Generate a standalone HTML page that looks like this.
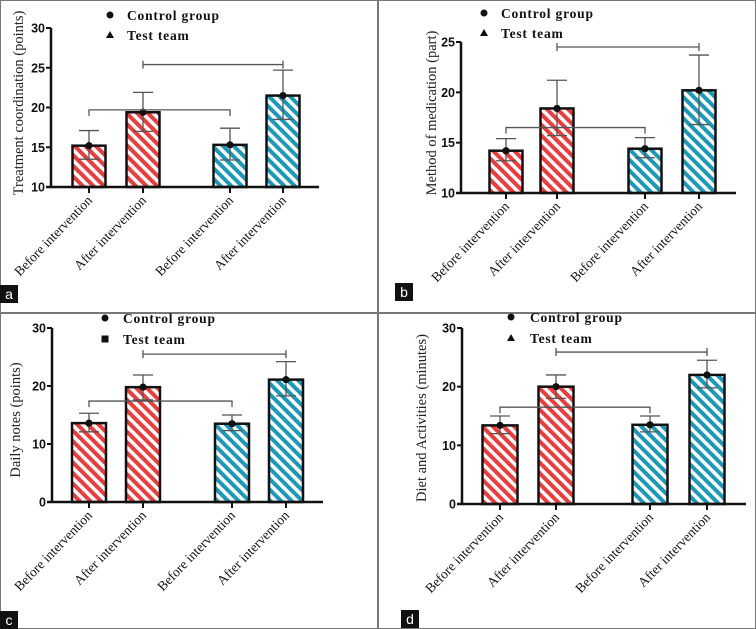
<!DOCTYPE html>
<html><head><meta charset="utf-8">
<style>
html,body{margin:0;padding:0;background:#fff;}
svg{display:block;}
.tick{font-family:"Liberation Sans",sans-serif;font-weight:bold;font-size:12.5px;fill:#111;}
.leg{font-family:"Liberation Serif",serif;font-weight:bold;font-size:13.5px;letter-spacing:0.8px;fill:#111;}
.cat{font-family:"Liberation Serif",serif;font-size:13.5px;fill:#111;}
.ytitle{font-family:"Liberation Serif",serif;font-size:14.5px;fill:#222;}
.lab{font-family:"Liberation Sans",sans-serif;font-size:14px;fill:#fff;}
</style></head>
<body>
<svg id="fig" width="756" height="629" viewBox="0 0 756 629" xmlns="http://www.w3.org/2000/svg">
<defs>
<pattern id="hatchRed" width="7.5" height="7.5" patternUnits="userSpaceOnUse" patternTransform="rotate(-45)">
<rect width="7.5" height="7.5" fill="#fff"/><rect x="0" y="0" width="4" height="7.5" fill="#ee3b3b"/></pattern>
<pattern id="hatchCyan" width="7.5" height="7.5" patternUnits="userSpaceOnUse" patternTransform="rotate(-45)">
<rect width="7.5" height="7.5" fill="#fff"/><rect x="0" y="0" width="4" height="7.5" fill="#1a9ab8"/></pattern>
</defs>
</svg>
<script>
const categories = ["Before intervention","After intervention","Before intervention","After intervention"];
// panel a
const aValues = [15.2, 19.4, 15.3, 21.5];
const aUpper = [17.1, 21.9, 17.4, 24.7];
const aLower = [13.5, 17.0, 13.4, 18.5];
const aTicks = [10, 15, 20, 25, 30];
const aBrackets = [19.7, 25.4];
// panel b
const bValues = [14.2, 18.4, 14.4, 20.2];
const bUpper = [15.4, 21.2, 15.5, 23.7];
const bLower = [13.2, 15.7, 13.5, 16.8];
const bTicks = [10, 15, 20, 25];
const bBrackets = [16.5, 24.5];
// panel c
const cValues = [13.6, 19.8, 13.5, 21.1];
const cUpper = [15.3, 21.9, 15.0, 24.2];
const cLower = [12.1, 17.6, 12.3, 18.3];
const cTicks = [0, 10, 20, 30];
const cBrackets = [17.4, 25.5];
// panel d
const dValues = [13.4, 20.0, 13.5, 22.0];
const dUpper = [15.0, 22.0, 15.0, 24.5];
const dLower = [12.0, 18.0, 12.3, 19.8];
const dTicks = [0, 10, 20, 30];
const dBrackets = [16.5, 25.9];

const NS = "http://www.w3.org/2000/svg";
const svg = document.getElementById("fig");
function mk(tag, attrs, parent){
  const e = document.createElementNS(NS, tag);
  for (const k in attrs) e.setAttribute(k, attrs[k]);
  (parent||svg).appendChild(e);
  return e;
}

const panels = [
  {id:"a", box:[0,0,378,313], ax:51, ymin:10, ymax:30, y0:187, y1:28, xEnd:319, xs:[89,143,230,283], bw:33,
   v:aValues, up:aUpper, lo:aLower, ticks:aTicks, br:aBrackets, title:"Treatment coordination (points)", tx:18, ty:103,
   lx:110, ly1:15, ly2:35, ltx:127, marker:"tri", labx:0, laby:285},
  {id:"b", box:[378,0,378,313], ax:461, ymin:10, ymax:25, y0:193, y1:42, xEnd:736, xs:[506,557,645,699], bw:33,
   v:bValues, up:bUpper, lo:bLower, ticks:bTicks, br:bBrackets, title:"Method of medication (part)", tx:431, ty:113,
   lx:484, ly1:13, ly2:33, ltx:501, marker:"tri", labx:395, laby:283},
  {id:"c", box:[0,313,378,316], ax:52, ymin:0, ymax:30, y0:502, y1:328, xEnd:323, xs:[89,143,232,286], bw:34,
   v:cValues, up:cUpper, lo:cLower, ticks:cTicks, br:cBrackets, title:"Daily notes (points)", tx:15, ty:420,
   lx:105, ly1:318, ly2:339, ltx:123, marker:"sq", labx:0, laby:611},
  {id:"d", box:[378,313,378,316], ax:462, ymin:0, ymax:30, y0:504, y1:328, xEnd:746, xs:[500,556,650,707], bw:35,
   v:dValues, up:dUpper, lo:dLower, ticks:dTicks, br:dBrackets, title:"Diet and Activities (minutes)", tx:421, ty:418,
   lx:511, ly1:317, ly2:338, ltx:530, marker:"tri", labx:401, laby:610}
];

panels.forEach(p=>{
  const g = mk("g", {});
  
  
  const y = v => p.y0 + (v - p.ymin) / (p.ymax - p.ymin) * (p.y1 - p.y0);
  const bd = mk("rect", {x:p.box[0]+0.5, y:p.box[1]+0.5, width:p.box[2]-1, height:p.box[3]-1, fill:"none", stroke:"#777", "stroke-width":1}, g);
  
  

  p.v.forEach((val,i)=>{
    const x = p.xs[i];
    const r = mk("rect", {x:x-p.bw/2, y:y(val), width:p.bw, height:p.y0-y(val),
      fill: i<2 ? "url(#hatchRed)" : "url(#hatchCyan)", stroke:"#111", "stroke-width":2.5}, g);
    
    
  });
  p.v.forEach((val,i)=>{
    const x = p.xs[i];
    const e = mk("g", {stroke:"#555", "stroke-width":1.3, fill:"none"}, g);
    
    
    mk("line", {x1:x, x2:x, y1:y(p.up[i]), y2:y(p.lo[i])}, e);
    mk("line", {x1:x-10, x2:x+10, y1:y(p.up[i]), y2:y(p.up[i])}, e);
    mk("line", {x1:x-10, x2:x+10, y1:y(p.lo[i]), y2:y(p.lo[i])}, e);
    const m = mk("circle", {cx:x, cy:y(val), r:3.6, fill:"#111", stroke:"none"}, g);
    
    
  });
  const b1 = mk("path", {d:`M${p.xs[0]},${y(p.br[0])+6}V${y(p.br[0])}H${p.xs[2]}V${y(p.br[0])+6}`, stroke:"#555", "stroke-width":1.3, fill:"none"}, g);
  
  
  const b2 = mk("path", {d:`M${p.xs[1]},${y(p.br[1])-4}V${y(p.br[1])+4}M${p.xs[1]},${y(p.br[1])}H${p.xs[3]}M${p.xs[3]},${y(p.br[1])-4}V${y(p.br[1])+4}`, stroke:"#555", "stroke-width":1.3, fill:"none"}, g);
  
  

  const yaxis = mk("line", {x1:p.ax, x2:p.ax, y1:p.y1, y2:p.y0+1, stroke:"#111", "stroke-width":2.5}, g);
  
  
  const xaxis = mk("line", {x1:p.ax-5, x2:p.xEnd, y1:p.y0, y2:p.y0, stroke:"#111", "stroke-width":2.5}, g);
  
  
  p.ticks.forEach(t=>{
    mk("line", {x1:p.ax-5, x2:p.ax, y1:y(t), y2:y(t), stroke:"#111", "stroke-width":2}, g);
    const tl = mk("text", {x:p.ax-6, y:y(t)+4.5, "text-anchor":"end", class:"tick"}, g);
    tl.textContent = t;
    
    
  });
  categories.forEach((c,i)=>{
    const x = p.xs[i];
    mk("line", {x1:x, x2:x, y1:p.y0, y2:p.y0+6, stroke:"#111", "stroke-width":2}, g);
    const cl = mk("text", {x:x+4, y:p.y0+14, "text-anchor":"end", class:"cat", transform:`rotate(-46 ${x+4} ${p.y0+14})`}, g);
    cl.textContent = c;
    
    
  });
  const yt = mk("text", {x:p.tx, y:p.ty, "text-anchor":"middle", class:"ytitle", transform:`rotate(-90 ${p.tx} ${p.ty})`, dy:"5"}, g);
  yt.textContent = p.title;
  
  

  const lg = mk("g", {}, g);
  
  
  mk("circle", {cx:p.lx, cy:p.ly1, r:3.5, fill:"#111"}, lg);
  const l1 = mk("text", {x:p.ltx, y:p.ly1+5, class:"leg"}, lg);
  l1.textContent = "Control group";
  
  
  if (p.marker === "tri") {
    mk("path", {d:`M${p.lx},${p.ly2-4}L${p.lx+4},${p.ly2+3}L${p.lx-4},${p.ly2+3}Z`, fill:"#111"}, lg);
  } else {
    mk("rect", {x:p.lx-3.5, y:p.ly2-3.5, width:7, height:7, fill:"#111"}, lg);
  }
  const l2 = mk("text", {x:p.ltx, y:p.ly2+5, class:"leg"}, lg);
  l2.textContent = "Test team";
  
  

  const lb = mk("rect", {x:p.labx, y:p.laby, width:18, height:18, fill:"#111"}, g);
  
  
  const lt = mk("text", {x:p.labx+9, y:p.laby+14, "text-anchor":"middle", class:"lab"}, g);
  lt.textContent = p.id;
  
  
});
</script>
</body></html>
